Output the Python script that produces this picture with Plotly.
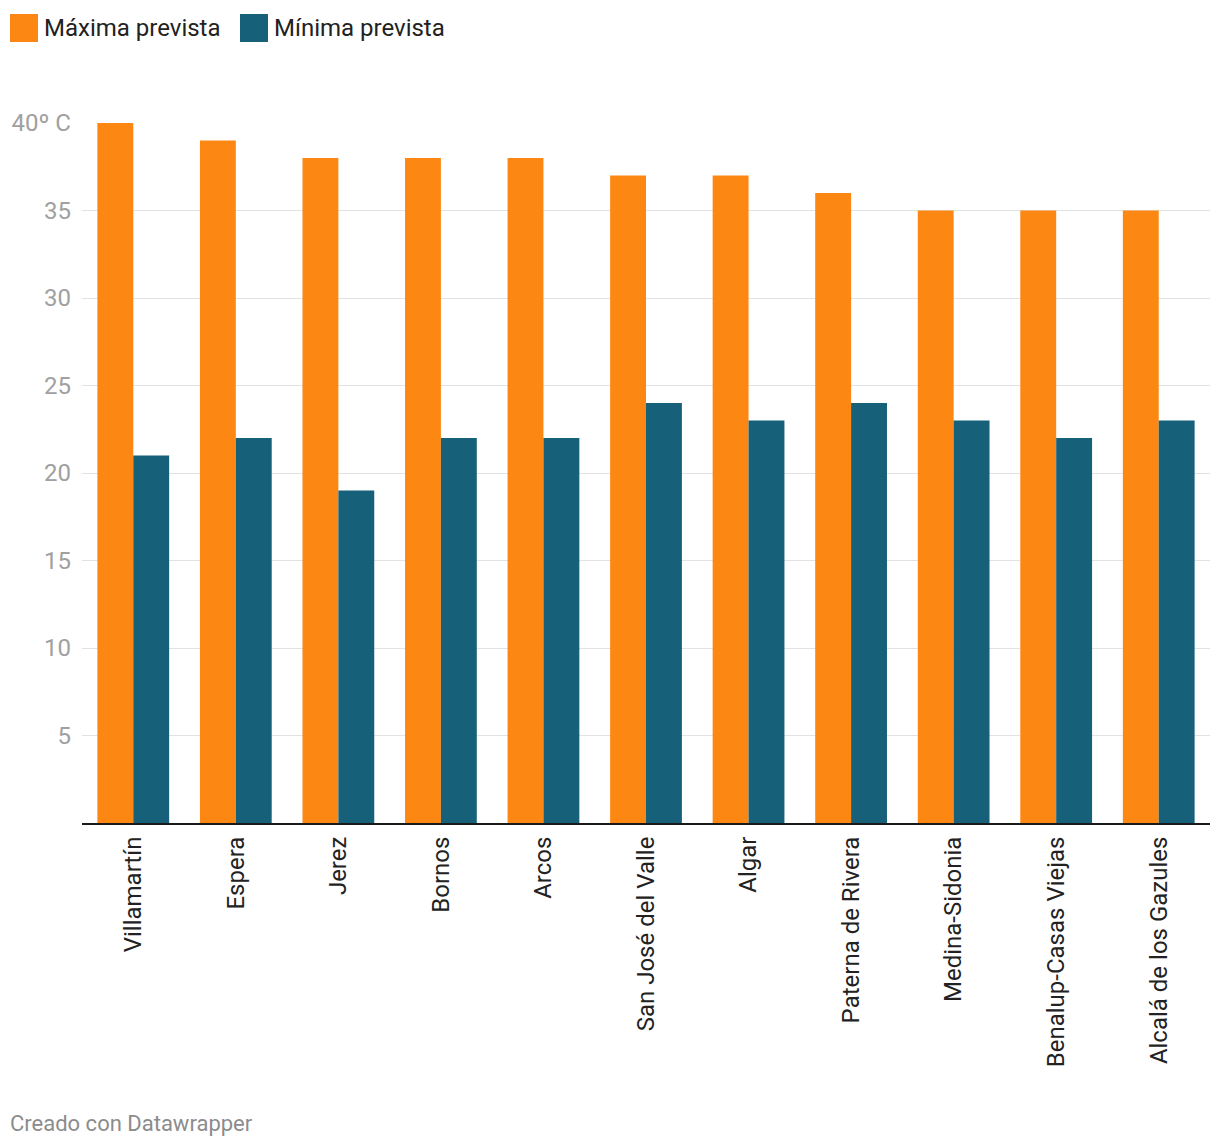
import plotly.graph_objects as go

categories = ["Villamartín", "Espera", "Jerez", "Bornos", "Arcos", "San José del Valle",
              "Algar", "Paterna de Rivera", "Medina-Sidonia", "Benalup-Casas Viejas",
              "Alcalá de los Gazules"]
maxima = [40, 39, 38, 38, 38, 37, 37, 36, 35, 35, 35]
minima = [21, 22, 19, 22, 22, 24, 23, 24, 23, 22, 23]
series_names = ["Máxima prevista", "Mínima prevista"]
ytick_vals = [5, 10, 15, 20, 25, 30, 35, 40]
ytick_text = ["5", "10", "15", "20", "25", "30", "35", "40º C"]

ORANGE = "#fd8713"
BLUE = "#17607a"
OFF = 8  # page body margin
W, H = 1220, 1146
L, R, T, B = 82 - OFF, 10 + OFF, 123 - OFF, 323 + OFF
PW = W - L - R
PH = H - T - B

def px(x):
    return (x - OFF - L) / PW

def py(y):
    return 1 - (y - OFF - T) / PH

fig = go.Figure()
fig.add_trace(go.Bar(x=categories, y=maxima, name=series_names[0], marker_color=ORANGE,
                     marker_line_width=0))
fig.add_trace(go.Bar(x=categories, y=minima, name=series_names[1], marker_color=BLUE,
                     marker_line_width=0))

shapes = []
annotations = []
# legend
for x0, color, label in [(10, ORANGE, series_names[0]), (240, BLUE, series_names[1])]:
    shapes.append(dict(type="rect", xref="paper", yref="paper",
                       x0=px(x0), x1=px(x0 + 28), y0=py(42), y1=py(14),
                       fillcolor=color, line_width=0))
    annotations.append(dict(xref="paper", yref="paper", x=px(x0 + 32), y=py(28),
                            text=label, showarrow=False, xanchor="left", yanchor="middle",
                            font=dict(family="Roboto", size=24, color="#222222")))
annotations.append(dict(xref="paper", yref="paper", x=px(8), y=py(1123),
                        text="Creado con Datawrapper", showarrow=False,
                        xanchor="left", yanchor="middle",
                        font=dict(family="Roboto", size=22, color="#8c8c8c")))

fig.update_layout(
    width=W, height=H,
    margin=dict(l=L, r=R, t=T, b=B, pad=0),
    paper_bgcolor="white", plot_bgcolor="white",
    barmode="group", bargap=0.3, bargroupgap=0,
    showlegend=False,
    shapes=shapes, annotations=annotations,
    font=dict(family="Roboto"),
)
fig.update_xaxes(
    type="category", showgrid=False, showline=True, linecolor="#1a1a1a", linewidth=2,
    ticks="", tickangle=-90, tickfont=dict(family="Roboto", size=24, color="#222222"),
    ticklabelstandoff=2, automargin=False,
)
fig.update_yaxes(
    range=[0, 40], tickvals=ytick_vals, ticktext=ytick_text,
    showgrid=True, gridcolor="#e2e2e2", gridwidth=1, zeroline=False,
    showline=False, ticks="", tickfont=dict(family="Roboto", size=24, color="#a0a0a0"),
    ticklabelstandoff=10, automargin=False,
)
fig.write_html("out.html")
